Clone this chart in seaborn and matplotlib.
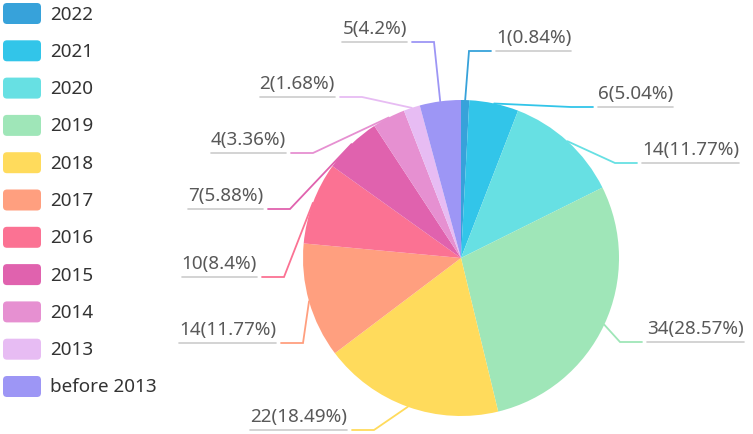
import matplotlib
matplotlib.use("Agg")
import matplotlib.pyplot as plt
import seaborn as sns
import numpy as np
from matplotlib.patches import FancyBboxPatch

# data
years = ['2022', '2021', '2020', '2019', '2018', '2017', '2016', '2015', '2014', '2013', 'before 2013']
counts = [1, 6, 14, 34, 22, 14, 10, 7, 4, 2, 5]
pcts = [0.84, 5.04, 11.77, 28.57, 18.49, 11.77, 8.4, 5.88, 3.36, 1.68, 4.2]
colors = ['#37A2DA', '#32C5E9', '#67E0E3', '#9FE6B8', '#FFDB5C', '#FF9F7F',
          '#FB7293', '#E062AE', '#E690D1', '#E7BCF3', '#9D96F5']

# elbow points of the leader lines (pixel layout)
elbows = [(469, 51), (571, 107), (615, 163), (620, 342), (374, 430), (303, 343),
          (284, 277), (290, 209), (313, 153), (362, 97), (434, 42)]

sns.set_theme(style="white")
plt.rcParams['font.family'] = ['Noto Sans', 'DejaVu Sans']

W, H = 753, 434
fig = plt.figure(figsize=(W / 100, H / 100), dpi=100)
ax = fig.add_axes([0, 0, 1, 1])
palette = sns.color_palette(colors)

cx, cy, r = 461, 258, 158
# y axis is flipped below, so startangle=-90 / counterclock gives top start, clockwise on screen
wedges, _ = ax.pie(counts, colors=palette, startangle=-90, counterclock=True,
                   radius=r, center=(cx, cy), wedgeprops=dict(linewidth=0))
ax.set_xlim(0, W)
ax.set_ylim(H, 0)
ax.set_aspect('equal')
ax.axis('off')

fs = 13.6
texts = []
for w, c, p, col, (ex, ey) in zip(wedges, counts, pcts, palette, elbows):
    ang = np.deg2rad((w.theta1 + w.theta2) / 2)
    sx, sy = cx + r * np.cos(ang), cy + r * np.sin(ang)
    right = ex > cx
    hx = ex + 22 if right else ex - 22
    ax.plot([sx, ex, hx], [sy, ey, ey], color=col, lw=1.3, solid_joinstyle='miter')
    tx = hx + 5 if right else hx - 5
    t = ax.text(tx, ey - 8, f"{c}({p:g}%)", ha='left' if right else 'right',
                va='baseline', fontsize=fs, color='#595959')
    texts.append((t, tx, ey, right))

fig.canvas.draw()
rend = fig.canvas.get_renderer()
for t, tx, ey, right in texts:
    bw = t.get_window_extent(rend).width
    x2 = tx + bw if right else tx - bw
    ax.plot([tx, x2], [ey, ey], color='#cccccc', lw=1.2)

# legend
for i, (y, col) in enumerate(zip(years, colors)):
    yc = 13.5 + i * 37.3
    ax.add_patch(FancyBboxPatch((3, yc - 10.5), 38, 21, boxstyle="round,pad=0,rounding_size=4",
                                fc=col, ec='none'))
    ax.text(50, yc + 6, y, fontsize=fs, color='#333333', va='baseline')

fig.savefig('out.png', dpi=100)
